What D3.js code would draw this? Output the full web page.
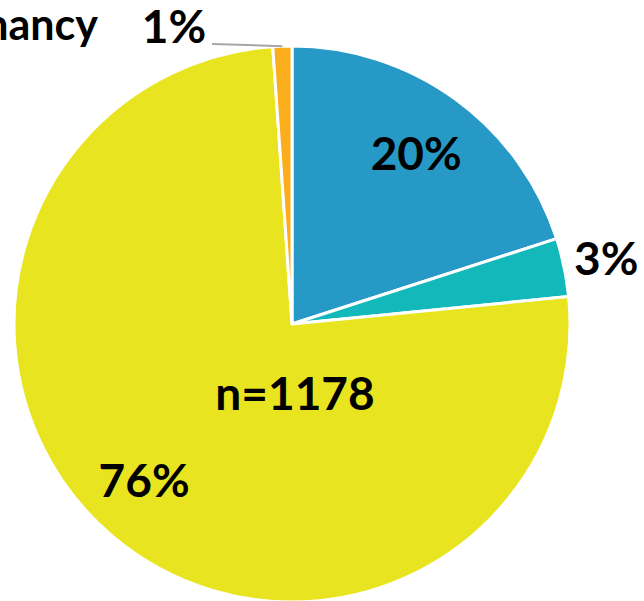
<!DOCTYPE html>
<html lang="en">
    <head>
        <meta charset="utf-8">
        <title>Pie chart n=1178</title>
        <script src="https://d3js.org/d3.v7.min.js" charset="utf-8"></script>
        <style>
        body {
            margin: 0;
            background: #fff;
        }
        svg text {
            font-family: Lato, sans-serif;
            font-weight: 700;
            fill: #000;
        }
        </style>
    </head>
    <body>
        <div id="vis_container"></div>
        <script type="text/javascript">
            // data
            var categories = ["A", "B", "C", "Pregnancy"];
            var counts = [236, 40, 889, 13];
            var pctLabels = ["20%", "3%", "76%", "1%"];
            var colors = ["#2699C6", "#13B9BA", "#E8E41F", "#FAAE1B"];
            var total = "n=1178";

            var width = 644, height = 601;
            var cx = 292, cy = 324, radius = 278;

            var svg = d3.select("#vis_container")
                .append("svg")
                .attr("width", width)
                .attr("height", height);

            var g = svg.append("g")
                .attr("transform", "translate(" + cx + "," + cy + ")");

            var pie = d3.pie().sort(null).value(function(d) { return d; });
            var arcs = pie(counts);

            var arc = d3.arc().innerRadius(0).outerRadius(radius);

            g.selectAll("path.slice")
                .data(arcs)
              .enter().append("path")
                .attr("class", "slice")
                .attr("d", arc)
                .attr("fill", function(d, i) { return colors[i]; })
                .attr("stroke", "#fff")
                .attr("stroke-width", 3)
                .attr("stroke-linejoin", "round");

            // label placement per slice: radius and a small angle nudge (degrees)
            var labelR = [211, 321, 215, 0];
            var labelNudge = [0, 0, 3.3, 0];
            var fs = 46;

            arcs.forEach(function(d, i) {
                if (i === 3) return;
                var a = (d.startAngle + d.endAngle) / 2 + labelNudge[i] * Math.PI / 180;
                var x = Math.sin(a) * labelR[i], y = -Math.cos(a) * labelR[i];
                g.append("text")
                    .attr("x", x)
                    .attr("y", y)
                    .attr("dy", "0.36em")
                    .attr("text-anchor", "middle")
                    .style("font-size", fs + "px")
                    .text(pctLabels[i]);
            });

            // small slice: leader line + label + category name
            var small = arcs[3];
            var sa = (small.startAngle + small.endAngle) / 2;
            var px = Math.sin(sa) * radius, py = -Math.cos(sa) * radius;
            g.append("line")
                .attr("x1", -80).attr("y1", -280)
                .attr("x2", px).attr("y2", py)
                .attr("stroke", "#a6a6a6")
                .attr("stroke-width", 2);
            g.append("text")
                .attr("x", -118)
                .attr("y", -281)
                .attr("text-anchor", "middle")
                .style("font-size", fs + "px")
                .text(pctLabels[3]);
            g.append("text")
                .attr("x", -194)
                .attr("y", -284)
                .attr("text-anchor", "end")
                .style("font-size", "43px")
                .text(categories[3]);

            g.append("text")
                .attr("x", 3)
                .attr("y", 86)
                .attr("text-anchor", "middle")
                .style("font-size", fs + "px")
                .text(total);
        </script>
    </body>
</html>
